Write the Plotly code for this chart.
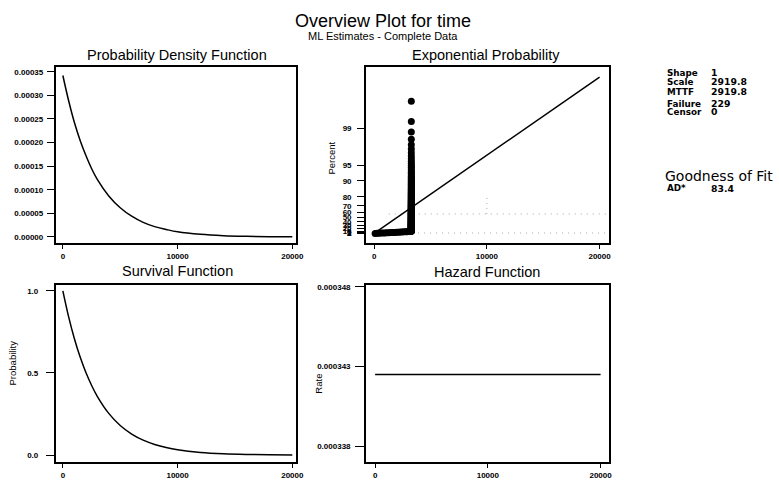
import numpy as np
import plotly.graph_objects as go

W, H = 779, 481
SX = 1.008  # small horizontal correction measured against the reference

# ---- summary statistics shown at the right ----
stat_labels = ["Shape", "Scale", "MTTF", "Failure", "Censor"]
stat_values = ["1", "2919.8", "2919.8", "229", "0"]
gof_label = "AD*"
gof_value = "83.4"
scale = 2919.8

# ---- Probability Density Function ----
pdf_t = [0, 500, 1000, 1500, 2000, 2500, 3000, 4000, 5000, 6000, 7000, 8000,
         9000, 10000, 12000, 14000, 16000, 18000, 20000]
pdf_v = [0.000342, 0.000289, 0.000243, 0.000205, 0.000173, 0.000145, 0.000122,
         0.000087, 0.000062, 0.000044, 0.000031, 0.000022, 0.000016, 0.000011,
         0.0000056, 0.0000028, 0.0000014, 0.0000007, 0.0000004]

# ---- Survival Function ----
surv_t = pdf_t
surv_v = [1.0, 0.843, 0.710, 0.598, 0.504, 0.425, 0.358, 0.254, 0.180, 0.128,
          0.091, 0.065, 0.046, 0.0325, 0.0164, 0.0083, 0.0042, 0.0021, 0.0011]

# ---- Hazard Function ----
haz_t = [0, 20000]
haz_v = [0.0003425, 0.0003425]

# ---- Exponential probability plot data (failure times) ----
low_times = [90, 260, 430, 600, 780, 950, 1120, 1300, 1470, 1650, 1820, 2000,
             2170, 2340, 2500, 2650, 2800, 2930, 3040, 3150]
cluster_time = 3300
cluster_count = 209
fit_t = [0, 20000]
pct_ticks = [1, 2, 3, 5, 10, 20, 30, 40, 50, 60, 70, 80, 90, 95, 99]
ghost_pct = [57.5, 2.0]
ghost_start_t = [1300, 3900]
ghost_vert_t = 10000
ghost_vert_pct = [57.5, 79.0]

times = np.sort(np.array(low_times + [cluster_time] * cluster_count, dtype=float))
n = len(times)
ranks = np.arange(1, n + 1)
p_med = (ranks - 0.3) / (n + 0.4)          # median ranks (Bernard)
q_pts = -np.log(1 - p_med)                 # exponential probability scale


def qf(p):
    return -np.log(1 - np.asarray(p, dtype=float) / 100.0)


fit_q = [t / scale for t in fit_t]


def px_x(v):
    return v * SX / W


def px_y(v):
    return 1 - v / H


fig = go.Figure()
line_style = dict(color="black", width=1.5)

fig.add_trace(go.Scatter(x=pdf_t, y=pdf_v, mode="lines", line=dict(shape="spline", **line_style),
                         xaxis="x", yaxis="y", showlegend=False))
# faint dotted lines in probability plot
for gp, gs in zip(ghost_pct, ghost_start_t):
    fig.add_trace(go.Scatter(x=[gs, 20700], y=[qf(gp), qf(gp)], mode="lines",
                             line=dict(color="#a8a8a8", width=1, dash="1px,5px"),
                             xaxis="x2", yaxis="y2", showlegend=False))
fig.add_trace(go.Scatter(x=[ghost_vert_t, ghost_vert_t], y=list(qf(ghost_vert_pct)), mode="lines",
                         line=dict(color="#a8a8a8", width=1, dash="1px,4px"),
                         xaxis="x2", yaxis="y2", showlegend=False))
fig.add_trace(go.Scatter(x=fit_t, y=fit_q, mode="lines", line=line_style,
                         xaxis="x2", yaxis="y2", showlegend=False))
fig.add_trace(go.Scatter(x=times, y=q_pts, mode="markers",
                         marker=dict(color="black", size=7),
                         xaxis="x2", yaxis="y2", showlegend=False))
fig.add_trace(go.Scatter(x=surv_t, y=surv_v, mode="lines", line=dict(shape="spline", **line_style),
                         xaxis="x3", yaxis="y3", showlegend=False))
fig.add_trace(go.Scatter(x=haz_t, y=haz_v, mode="lines", line=line_style,
                         xaxis="x4", yaxis="y4", showlegend=False))

tickfont = dict(family="Liberation Sans, Arial", size=8, color="black", weight="bold")
ax = dict(showline=True, linecolor="black", linewidth=2, mirror=True, ticks="outside",
          ticklen=6, tickwidth=1.2, tickcolor="black", showgrid=False, zeroline=False,
          tickfont=tickfont)

xl = [px_x(56), px_x(297)]
xr = [px_x(367), px_x(610)]
yt = [px_y(242), px_y(65)]
yb = [px_y(462), px_y(284)]

xt_vals = [0, 10000, 20000]
xt_text = ["0", "10000", "20000"]

fig.update_layout(
    width=W, height=H, margin=dict(l=0, r=0, t=0, b=0),
    paper_bgcolor="white", plot_bgcolor="white",
    xaxis=dict(ax, domain=xl, range=[-609, 20348], anchor="y", tickvals=xt_vals, ticktext=xt_text, ticklen=4),
    yaxis=dict(ax, domain=yt, range=[-0.0000127, 0.0003605], anchor="x", ticklen=7, ticklabelstandoff=2,
               tickvals=[0, 0.00005, 0.0001, 0.00015, 0.0002, 0.00025, 0.0003, 0.00035],
               ticktext=["0.00000", "0.00005", "0.00010", "0.00015", "0.00020", "0.00025", "0.00030", "0.00035"]),
    xaxis2=dict(ax, domain=xr, range=[-708, 20796], anchor="y2", tickvals=xt_vals, ticktext=xt_text, ticklen=4),
    yaxis2=dict(ax, domain=yt, range=[-0.417, 7.30], anchor="x2", ticklen=7, ticklabelstandoff=4,
                tickvals=list(qf(pct_ticks)), ticktext=[str(p) for p in pct_ticks]),
    xaxis3=dict(ax, domain=xl, range=[-609, 20348], anchor="y3", tickvals=xt_vals, ticktext=xt_text, ticklen=4),
    yaxis3=dict(ax, domain=yb, range=[-0.0424, 1.0364], anchor="x3", ticklen=8, ticklabelstandoff=6,
                tickvals=[0, 0.5, 1.0], ticktext=["0.0", "0.5", "1.0"]),
    xaxis4=dict(ax, domain=xr, range=[-796, 20708], anchor="y4", tickvals=xt_vals, ticktext=xt_text, ticklen=4),
    yaxis4=dict(ax, domain=yb, range=[0.000337, 0.000348125], anchor="x4", ticklen=9, ticklabelstandoff=3,
                tickvals=[0.000338, 0.000343, 0.000348],
                ticktext=["0.000338", "0.000343", "0.000348"]),
)

ann = []


def add_text(text, x, y, size, xanchor="center", family="Liberation Sans, Arial", weight="normal", angle=0):
    ann.append(dict(text=text, x=px_x(x), y=px_y(y), xref="paper", yref="paper",
                    xanchor=xanchor, yanchor="middle", showarrow=False, textangle=angle,
                    font=dict(family=family, size=size, color="black", weight=weight)))


add_text("Overview Plot for time", 384, 19, 18)
add_text("ML Estimates - Complete Data", 384, 34, 11)
add_text("Probability Density Function", 177, 53, 14.5)
add_text("Exponential Probability", 487, 53, 14.5)
add_text("Survival Function", 178, 270, 14.5)
add_text("Hazard Function", 488, 271, 14.5)
add_text("Probability", 13, 362, 9.5, angle=-90)
add_text("Percent", 332, 157, 9.5, angle=-90)
add_text("Rate", 319, 383, 9.5, angle=-90)

stat_y = [71, 80, 90, 102, 110]
for lab, val, yy in zip(stat_labels, stat_values, stat_y):
    add_text(lab, 667, yy, 8.8, xanchor="left", family="DejaVu Sans", weight="bold")
    add_text(val, 711, yy, 9.3, xanchor="left", family="DejaVu Sans", weight="bold")
add_text("Goodness of Fit", 665, 175, 14, xanchor="left", family="DejaVu Sans")
add_text(gof_label, 667, 187, 8.8, xanchor="left", family="DejaVu Sans", weight="bold")
add_text(gof_value, 711, 187, 9.3, xanchor="left", family="DejaVu Sans", weight="bold")

fig.update_layout(annotations=ann)
fig.write_html("out.html", config={"displayModeBar": False},
               post_script="document.body.style.margin='0px';")
